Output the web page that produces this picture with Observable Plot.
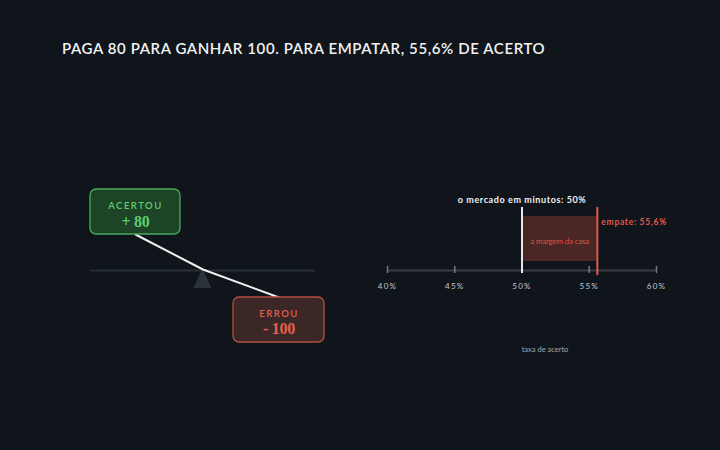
<!DOCTYPE html>
<html>
<head>
<meta charset="utf-8">
<script src="https://cdn.jsdelivr.net/npm/d3@7"></script>
<script src="https://cdn.jsdelivr.net/npm/@observablehq/plot@0.6"></script>
<style>
  html, body { margin: 0; padding: 0; background: #10151c; }
  #wrap { position: relative; width: 720px; height: 450px; background: #10151c; overflow: hidden; }
  #wrap svg { position: absolute; left: 0; top: 0; }
  #title { position: absolute; left: 62px; top: 39px; color: #f2f2f2; font-family: Lato, sans-serif; font-size: 15px; font-weight: 600; letter-spacing: 0.6px; white-space: nowrap; }
</style>
</head>
<body>
<div id="wrap"><div id="title"></div></div>
<script>
// ---- data ----
const title = "PAGA 80 PARA GANHAR 100. PARA EMPATAR, 55,6% DE ACERTO";
const outcomes = ["ACERTOU", "ERROU"];
const payoffs = [80, -100];
const payoffLabels = ["+ 80", "- 100"];
const ticks = [40, 45, 50, 55, 60];
const marketRate = 50;
const breakEven = 55.6;
const marketLabel = "o mercado em minutos: 50%";
const breakEvenLabel = "empate: 55,6%";
const marginLabel = "a margem da casa";
const axisLabel = "taxa de acerto";

// ---- layout (px offsets around the beam / axis) ----
const boxLayout = [
  {x1: -112.5, x2: -22.5, y1: 36, y2: 81, cx: -67.5, ty: 65, vy: 49, fill: "#1d4427", stroke: "#4aaa5b", color: "#5fcd6e"},
  {x1: 30.5, x2: 121.5, y1: -27, y2: -72, cx: 76, ty: -43, vy: -58, fill: "#3c2727", stroke: "#b84f40", color: "#e2604c"}
];
const boxes = outcomes.map((o, i) => ({outcome: o, payoff: payoffs[i], label: payoffLabels[i], ...boxLayout[i]}));
const lever = [
  {x: boxLayout[0].cx, y: boxLayout[0].y1},
  {x: 0, y: 1},
  {x: boxLayout[1].cx, y: boxLayout[1].y1}
];
const fulcrum = [{x: -9, y1: -18, y2: -18}, {x: 0, y1: -18, y2: 2}, {x: 9, y1: -18, y2: -18}];

document.getElementById("title").textContent = title;
const wrap = document.getElementById("wrap");
const common = {width: 720, height: 450, margin: 0, style: {background: "transparent", overflow: "visible"}};

function spacing(svg, list) {
  const gs = svg.querySelectorAll('g[aria-label="text"]');
  list.forEach((ls, i) => { if (gs[i] && ls != null) gs[i].style.letterSpacing = ls + "px"; });
}

// ---- left: seesaw ----
const left = Plot.plot({
  ...common,
  x: {domain: [-112.5, 112.5], range: [90, 315], axis: null},
  y: {domain: [0, 100], range: [270, 170], axis: null},
  marks: [
    Plot.ruleY([0], {x1: -112.5, x2: 112.5, stroke: "#272e37", strokeWidth: 2}),
    Plot.areaY(fulcrum, {x: "x", y1: "y1", y2: "y2", fill: "#2b323c"}),
    Plot.line(lever, {x: "x", y: "y", stroke: "#f0f0f0", strokeWidth: 2, curve: "linear"}),
    Plot.rect(boxes, {x1: "x1", x2: "x2", y1: "y1", y2: "y2", fill: "fill", stroke: "stroke", strokeWidth: 1.3, rx: 6}),
    Plot.text(boxes, {x: "cx", y: "ty", text: "outcome", fill: "color", fontSize: 9.5, fontWeight: 600, fontFamily: "Lato, sans-serif"}),
    Plot.text(boxes, {x: "cx", y: "vy", text: "label", fill: "color", fontSize: 16, fontWeight: 600, fontFamily: "'Liberation Serif', serif"})
  ]
});
spacing(left, [1.5, -0.3]);

// ---- right: hit-rate axis ----
const right = Plot.plot({
  ...common,
  x: {domain: [40, 60], range: [387, 656], axis: null},
  y: {domain: [0, 100], range: [270, 170], axis: null},
  marks: [
    Plot.rect([{a: marketRate, b: breakEven}], {x1: "a", x2: "b", y1: 9, y2: 54, fill: "#4a2627"}),
    Plot.ruleY([0], {x1: 40, x2: 60, stroke: "#363d47", strokeWidth: 2}),
    Plot.ruleX(ticks, {x: d => d, y1: -3, y2: 4, stroke: "#727882", strokeWidth: 1.5}),
    Plot.text(ticks, {x: d => d, y: -16, text: d => `${d}%`, fill: "#c4c7cc", fontSize: 8, fontFamily: "Lato, sans-serif"}),
    Plot.ruleX([marketRate], {y1: -3, y2: 63, stroke: "#e6e6e6", strokeWidth: 2}),
    Plot.ruleX([breakEven], {y1: -5, y2: 63, stroke: "#e05a48", strokeWidth: 2}),
    Plot.text([marketRate], {x: d => d, y: 70, text: () => marketLabel, fill: "#f2f2f2", fontSize: 9, fontWeight: 700, fontFamily: "Lato, sans-serif"}),
    Plot.text([breakEven], {x: d => d, y: 48, dx: 4, text: () => breakEvenLabel, textAnchor: "start", fill: "#e05a48", fontSize: 8.5, fontWeight: 700, fontFamily: "Lato, sans-serif"}),
    Plot.text([{a: marketRate, b: breakEven}], {x: d => (d.a + d.b) / 2, y: 29, text: () => marginLabel, fill: "#dc5442", fontSize: 8, fontFamily: "Lato, sans-serif"}),
    Plot.text([marketRate], {x: d => d, y: -79, dx: 23, text: () => axisLabel, fill: "#a3a6ab", fontSize: 7.5, fontFamily: "Lato, sans-serif"})
  ]
});
spacing(right, [1.3, 0.6, 0.7, -0.2, 0]);

wrap.appendChild(left);
wrap.appendChild(right);
</script>
</body>
</html>
